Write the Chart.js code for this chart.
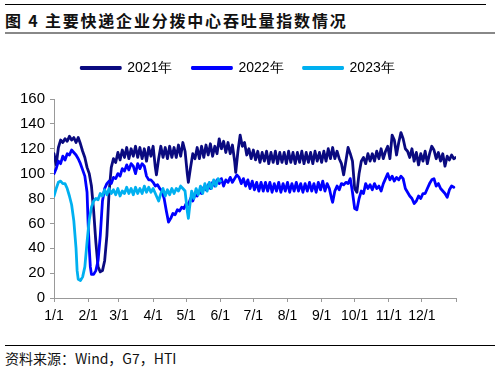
<!DOCTYPE html>
<html>
<head>
<meta charset="utf-8">
<script src="https://cdn.jsdelivr.net/npm/chart.js@4.4.1/dist/chart.umd.min.js"></script>
<style>
  body { margin: 0; width: 500px; height: 371px; background: #fff; position: relative; overflow: hidden; }
  .rule { position: absolute; left: 5px; height: 1px; background: #000; }
  #title { position: absolute; left: 5px; top: 8px; font: bold 16px "Noto Sans CJK SC", sans-serif; letter-spacing: 1.8px; color: #111; white-space: nowrap; }
  #source { position: absolute; left: 5px; top: 348px; font: 14px "Noto Sans CJK SC", "Liberation Sans", sans-serif; color: #111; white-space: nowrap; }
  #wrap { position: absolute; left: 0; top: 40px; width: 500px; height: 300px; }
</style>
</head>
<body>
<div class="rule" style="top:4px;width:481px;"></div>
<div id="title">图 4 主要快递企业分拨中心吞吐量指数情况</div>
<div class="rule" style="top:32px;width:490px;height:2px;background:#888;"></div>
<div id="wrap"><canvas id="chart" width="500" height="300"></canvas></div>
<div class="rule" style="top:345px;width:490px;"></div>
<div id="source">资料来源：Wind，G7，HTI</div>

<script>
// day of year (0 = 1/1) and index values
const monthStarts = [0, 31, 59, 90, 120, 151, 181, 212, 243, 273, 304, 334, 365];
const monthLabels = ['1/1', '2/1', '3/1', '4/1', '5/1', '6/1', '7/1', '8/1', '9/1', '10/1', '11/1', '12/1', ''];
const yTicks = [0, 20, 40, 60, 80, 100, 120, 140, 160];

const days2021 = [0,2,4,6,8,10,12,14,16,18,20,22,24,26,28,30,32,34,36,38,40,42,44,46,48,50,52,54,56,58,60,62,64,66,68,70,72,74,76,78,80,82,84,86,88,90,92,93,95,97,99,101,103,105,107,109,111,113,115,117,119,121,122,124,126,128,130,132,134,136,138,140,142,144,146,148,150,152,154,156,158,160,162,164,165,167,169,171,173,175,177,179,181,183,185,187,189,191,193,195,197,199,201,203,205,207,209,211,213,215,217,219,221,223,225,227,229,231,233,235,237,239,241,243,245,247,249,251,253,255,257,259,261,263,265,267,269,271,273,275,277,279,281,283,285,287,289,291,293,295,297,299,301,303,305,307,309,311,313,315,317,319,321,323,325,327,329,331,333,335,337,339,341,343,345,347,349,351,353,355,357,359,361,363,365];
const vals2021 = [116,107,121,127,125,128,126,130,127,129,125,129,124,118,113,105,100,90,70,45,25,21,22,30,50,85,105,112,109,117,111,119,113,121,112,120,114,122,113,121,112,120,110,121,114,122,105,99,112,122,113,121,112,122,113,121,113,123,114,125,118,100,93,105,116,112,121,112,122,113,123,115,124,114,122,116,128,120,126,117,125,116,123,110,101,118,131,122,125,115,120,112,119,111,118,109,117,110,118,108,117,109,118,108,117,109,117,108,118,109,117,108,117,109,118,108,117,109,117,108,118,110,117,109,118,110,120,112,121,112,118,112,108,99,110,121,116,110,88,85,100,110,113,108,116,110,116,110,118,112,120,112,118,122,112,131,127,115,125,133,128,120,118,113,120,110,117,107,116,110,118,108,116,122,119,112,117,110,116,106,114,111,115,112,113];

const days2022 = [0,2,4,6,8,10,12,14,16,18,20,22,24,26,28,30,31,32,33,34,36,38,40,42,44,46,48,50,52,54,56,58,60,62,64,66,68,70,72,74,76,78,80,82,84,86,88,90,92,94,96,98,100,102,104,106,108,110,112,114,116,118,120,122,124,126,128,130,132,134,136,138,140,142,144,146,148,150,152,154,156,158,160,162,164,166,168,170,172,174,176,178,180,182,184,186,188,190,192,194,196,198,200,202,204,206,208,210,212,214,216,218,220,222,224,226,228,230,232,234,236,238,240,242,244,246,248,250,252,253,255,257,259,261,263,265,267,269,271,273,275,277,279,281,283,285,287,289,291,293,295,297,299,301,303,305,307,309,311,313,315,317,319,321,323,325,327,329,331,333,335,337,339,341,343,345,347,349,351,353,355,357,359,361,363,365];
const vals2022 = [100,104,110,108,114,111,116,115,119,117,115,112,108,103,98,85,60,40,25,19,19,22,30,50,78,88,92,94,92,97,96,100,98,104,102,107,103,108,106,100,108,104,108,106,98,95,95,93,90,91,88,86,80,70,61,64,68,67,71,70,73,72,76,75,80,78,83,82,86,84,89,87,91,88,93,90,95,92,96,90,95,93,97,93,96,99,97,92,96,90,95,88,94,87,93,86,93,86,93,86,93,85,92,86,93,85,92,86,93,85,92,86,93,86,92,85,92,86,93,86,92,85,93,87,94,86,92,88,80,77,86,90,87,92,91,93,92,96,85,72,71,80,86,84,92,88,91,87,92,88,90,86,92,96,100,95,98,94,97,95,98,96,88,85,82,80,76,78,82,80,84,84,88,92,95,96,90,92,88,86,84,81,87,90,89];

const days2023 = [0,2,4,6,8,10,12,14,16,18,20,21,22,24,26,28,30,32,34,36,38,40,42,44,46,48,50,52,54,56,58,60,62,64,66,68,70,72,74,76,78,80,82,84,86,88,90,92,94,95,97,99,101,103,105,107,109,111,113,115,117,119,121,122,123,125,127,129,131,133,135,137,139,141,143,145,147,149,151];
const vals2023 = [82,88,93,94,92,92,88,82,75,62,40,22,15,14,17,25,45,63,73,78,80,79,84,82,87,83,88,84,87,83,88,82,86,84,89,84,88,83,89,84,88,84,90,85,89,85,88,84,80,78,84,88,82,87,83,88,84,88,86,90,88,86,70,64,72,86,80,88,83,90,84,92,86,93,88,95,90,96,94];

function toPoints(days, vals) {
  return days.map((d, i) => ({ x: d, y: vals[i] }));
}

const ctx = document.getElementById('chart');
new Chart(ctx, {
  type: 'line',
  data: {
    datasets: [
      { label: '2021年', data: toPoints(days2021, vals2021), borderColor: '#0a0a80', backgroundColor: '#0a0a80', order: 2 },
      { label: '2022年', data: toPoints(days2022, vals2022), borderColor: '#0000ff', backgroundColor: '#0000ff', order: 1 },
      { label: '2023年', data: toPoints(days2023, vals2023), borderColor: '#00b0f0', backgroundColor: '#00b0f0', order: 0 }
    ]
  },
  options: {
    responsive: false,
    animation: false,
    events: [],
    elements: {
      line: { borderWidth: 2.8, tension: 0, borderJoinStyle: 'round', borderCapStyle: 'round' },
      point: { radius: 0 }
    },
    layout: { padding: { left: 20, right: 44, top: 1, bottom: 0 } },
    plugins: {
      legend: {
        position: 'top',
        labels: {
          boxWidth: 39,
          boxHeight: 1,
          padding: 20,
          color: '#000',
          font: { family: 'Liberation Sans', size: 14 },
          sort: (a, b) => a.datasetIndex - b.datasetIndex
        }
      },
      tooltip: { enabled: false }
    },
    scales: {
      x: {
        type: 'linear',
        min: 0,
        max: 365,
        afterBuildTicks: scale => { scale.ticks = monthStarts.map(v => ({ value: v })); },
        afterFit: scale => { scale.height = 42; },
        ticks: {
          autoSkip: false,
          maxRotation: 0,
          padding: 6,
          color: '#000',
          font: { family: 'Liberation Sans', size: 14 },
          callback: (v) => monthLabels[monthStarts.indexOf(v)]
        },
        grid: { drawOnChartArea: false, drawTicks: true, tickLength: 4, color: '#999' },
        border: { color: '#999', width: 1 }
      },
      // empty top axis, only used as a gap between legend and plot
      gap: {
        type: 'linear',
        position: 'top',
        min: 0,
        max: 1,
        afterFit: scale => { scale.height = 14; },
        ticks: { display: false },
        grid: { display: false },
        border: { display: false }
      },
      y: {
        min: 0,
        max: 160,
        afterBuildTicks: scale => { scale.ticks = yTicks.map(v => ({ value: v })); },
        afterFit: scale => { scale.width = 34; },
        ticks: {
          padding: 5,
          color: '#000',
          font: { family: 'Liberation Sans', size: 15 }
        },
        grid: { drawOnChartArea: false, drawTicks: true, tickLength: 4, color: '#999' },
        border: { color: '#999', width: 1 }
      }
    }
  }
});
</script>
</body>
</html>
